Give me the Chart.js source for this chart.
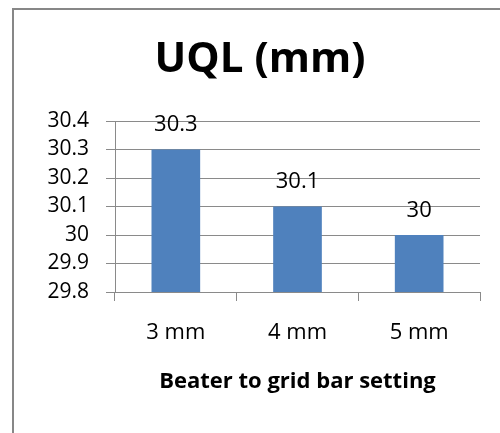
<!DOCTYPE html>
<html>
<head>
<meta charset="utf-8">
<script src="https://cdn.jsdelivr.net/npm/chart.js@4"></script>
<style>
  html, body { margin: 0; padding: 0; background: #fff; }
  #wrap { position: relative; width: 500px; height: 433px; overflow: hidden; }
  #frame {
    position: absolute; left: 12px; top: 8px; width: 520px; height: 460px;
    border-left: 2px solid #878787; border-top: 2px solid #878787;
    box-sizing: border-box; pointer-events: none;
  }
  canvas { position: absolute; left: 0; top: 0; }
</style>
</head>
<body>
<div id="wrap">
  <canvas id="chart" width="500" height="433"></canvas>
  <div id="frame"></div>
</div>
<script>
// Upper quartile length measured for each beater-to-grid-bar setting
const categories = ['3 mm', '4 mm', '5 mm'];
const uqlValues = [30.3, 30.1, 30];
const yTickValues = [29.8, 29.9, 30, 30.1, 30.2, 30.3, 30.4];

const FONT = "'Open Sans', 'Noto Sans', sans-serif";
const GRID = '#8a8a8a';

// Writes each bar's value centred above it
const valueLabels = {
  id: 'valueLabels',
  afterDatasetsDraw(chart) {
    const ctx = chart.ctx;
    const meta = chart.getDatasetMeta(0);
    ctx.save();
    ctx.font = '22px ' + FONT;
    ctx.fillStyle = '#000';
    ctx.textAlign = 'center';
    ctx.textBaseline = 'alphabetic';
    meta.data.forEach((bar, i) => {
      ctx.fillText(String(chart.data.datasets[0].data[i]), bar.x, bar.y - 18.5);
    });
    ctx.restore();
  }
};

new Chart(document.getElementById('chart'), {
  type: 'bar',
  data: {
    labels: categories,
    datasets: [{
      data: uqlValues,
      backgroundColor: '#4F81BD',
      borderWidth: 0,
      barPercentage: 0.4,
      categoryPercentage: 1
    }]
  },
  options: {
    responsive: false,
    animation: false,
    layout: { padding: { left: 40, right: 20, top: 0, bottom: 0 } },
    plugins: {
      legend: { display: false },
      tooltip: { enabled: false },
      title: {
        display: true,
        text: 'UQL (mm)',
        color: '#000',
        font: { family: FONT, size: 42, weight: 'bold', lineHeight: 1.2 },
        padding: { top: 35, bottom: 35.6 }
      }
    },
    scales: {
      x: {
        grid: {
          display: true, drawOnChartArea: false, offset: true,
          color: GRID, tickLength: 9, tickColor: GRID
        },
        border: { color: GRID, width: 1 },
        ticks: {
          color: '#000', padding: 19,
          font: { family: FONT, size: 22, lineHeight: 1.2 }
        },
        title: {
          display: true,
          text: 'Beater to grid bar setting',
          color: '#000',
          font: { family: FONT, size: 22, weight: 'bold', lineHeight: 1.2 },
          padding: { top: 3.4, bottom: 37.8 }
        }
      },
      y: {
        min: 29.8,
        max: 30.4,
        afterBuildTicks(scale) {
          scale.ticks = yTickValues.map(v => ({ value: v }));
        },
        afterFit(scale) { scale.width = 75; },
        grid: { color: GRID, tickLength: 9, tickColor: GRID },
        border: { color: GRID, width: 1 },
        ticks: {
          color: '#000', padding: 17, autoSkip: false,
          font: { family: FONT, size: 21, lineHeight: 1.2 },
          callback: v => String(Math.round(v * 10) / 10)
        }
      }
    }
  },
  plugins: [valueLabels]
});
</script>
</body>
</html>
